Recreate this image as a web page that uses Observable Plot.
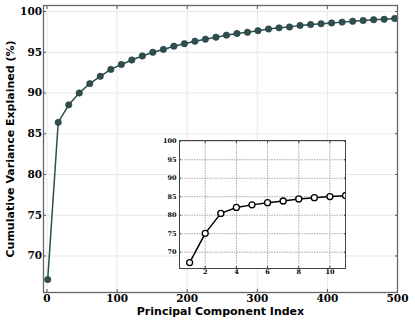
<!DOCTYPE html>
<html>
<head>
<meta charset="utf-8">
<script src="https://cdn.jsdelivr.net/npm/d3@7"></script>
<script src="https://cdn.jsdelivr.net/npm/@observablehq/plot@0.6"></script>
<style>
  html, body { margin: 0; padding: 0; background: white; }
  #wrap { position: relative; width: 415px; height: 323px; }
  #inset { position: absolute; left: 159px; top: 137px; }
  svg { overflow: visible; }
</style>
</head>
<body>
<div id="wrap"><div id="main"></div><div id="inset"></div></div>
<script>
// ---- data ----
const componentIndex = [1, 16, 31, 46, 61, 76, 91, 106, 121, 136, 151, 166, 181, 196, 211, 226, 241, 256, 271, 286, 301, 316, 331, 346, 361, 376, 391, 406, 421, 436, 451, 466, 481, 496];
const cumulativeVariance = [67.1, 86.4, 88.55, 90.0, 91.15, 92.05, 92.9, 93.5, 94.05, 94.55, 95.0, 95.35, 95.75, 96.05, 96.35, 96.6, 96.85, 97.1, 97.3, 97.45, 97.65, 97.85, 98.0, 98.1, 98.3, 98.4, 98.5, 98.6, 98.7, 98.8, 98.9, 99.0, 99.05, 99.15];
const insetIndex = [1, 2, 3, 4, 5, 6, 7, 8, 9, 10, 11];
const insetVariance = [67.2, 75.1, 80.5, 82.1, 82.8, 83.4, 83.85, 84.4, 84.75, 85.05, 85.3];
const mainXTicks = [0, 100, 200, 300, 400, 500];
const mainYTicks = [70, 75, 80, 85, 90, 95, 100];
const insetXTicks = [2, 4, 6, 8, 10];
const insetYTicks = [70, 75, 80, 85, 90, 95, 100];
const xLabel = "Principal Component Index";
const yLabel = "Cumulative Variance Explained (%)";

const mainData = componentIndex.map((x, i) => ({x, y: cumulativeVariance[i]}));
const insetData = insetIndex.map((x, i) => ({x, y: insetVariance[i]}));

const serif = "'DejaVu Serif', serif";
const sans = "'DejaVu Sans', sans-serif";
const lineColor = "#2f4f4f";

const main = Plot.plot({
  width: 415, height: 323,
  marginLeft: 43, marginRight: 18, marginTop: 5, marginBottom: 31,
  style: {fontFamily: serif, fontWeight: "bold", fontSize: "10.5px", background: "white", color: "#000"},
  x: {domain: [-5, 500]},
  y: {domain: [65.52, 100.74]},
  marks: [
    Plot.gridX(mainXTicks, {stroke: "#e8e8e8", strokeOpacity: 1}),
    Plot.gridY(mainYTicks, {stroke: "#e8e8e8", strokeOpacity: 1}),
    Plot.axisX(mainXTicks, {anchor: "bottom", tickSize: -3, tickPadding: 5, label: null, stroke: "#555"}),
    Plot.axisX(mainXTicks, {anchor: "top", tickSize: -3, tickFormat: () => "", label: null, stroke: "#555"}),
    Plot.axisY(mainYTicks, {anchor: "left", tickSize: -3, tickPadding: 4.5, label: null, stroke: "#555"}),
    Plot.axisY(mainYTicks, {anchor: "right", tickSize: -3, tickFormat: () => "", label: null, stroke: "#555"}),
    Plot.line(mainData, {x: "x", y: "y", stroke: lineColor, strokeWidth: 1.5}),
    Plot.dot(mainData, {x: "x", y: "y", r: 3.2, fill: lineColor, stroke: "#263e3e", strokeWidth: 0.6}),
    Plot.frame({stroke: "#666", strokeWidth: 1.3}),
    Plot.text([xLabel], {text: d => d, frameAnchor: "bottom", dy: 19, lineAnchor: "middle", textAnchor: "middle", fontFamily: sans, fontSize: 11, fontWeight: "bold", fill: "#000"}),
    Plot.text([yLabel], {text: d => d, frameAnchor: "left", dx: -33, rotate: -90, lineAnchor: "middle", textAnchor: "middle", fontFamily: sans, fontSize: 11, fontWeight: "bold", fill: "#000"})
  ]
});
document.getElementById("main").appendChild(main);

const inset = Plot.plot({
  width: 188, height: 143,
  marginLeft: 20, marginRight: 2, marginTop: 3, marginBottom: 12,
  style: {fontFamily: serif, fontWeight: "bold", fontSize: "6.5px", background: "transparent", color: "#000"},
  x: {domain: [0.35, 11]},
  y: {domain: [65.6, 100.2]},
  marks: [
    Plot.frame({fill: "white", stroke: "none"}),
    Plot.gridX(insetXTicks, {stroke: "#aaa", strokeOpacity: 1, strokeDasharray: "1.5,1"}),
    Plot.gridY(insetYTicks, {stroke: "#aaa", strokeOpacity: 1, strokeDasharray: "1.5,1"}),
    Plot.axisX(insetXTicks, {anchor: "bottom", tickSize: -2, tickPadding: 3, label: null, stroke: "#444"}),
    Plot.axisX(insetXTicks, {anchor: "top", tickSize: -2, tickFormat: () => "", label: null, stroke: "#444"}),
    Plot.axisY(insetYTicks, {anchor: "left", tickSize: -2, tickPadding: 5, label: null, stroke: "#444"}),
    Plot.axisY(insetYTicks, {anchor: "right", tickSize: -2, tickFormat: () => "", label: null, stroke: "#444"}),
    Plot.line(insetData, {x: "x", y: "y", stroke: "black", strokeWidth: 1.5, clip: true}),
    Plot.dot(insetData, {x: "x", y: "y", r: 3, fill: "white", stroke: "black", strokeWidth: 1.3, clip: true}),
    Plot.frame({stroke: "#444", strokeWidth: 1})
  ]
});
document.getElementById("inset").appendChild(inset);
</script>
</body>
</html>
